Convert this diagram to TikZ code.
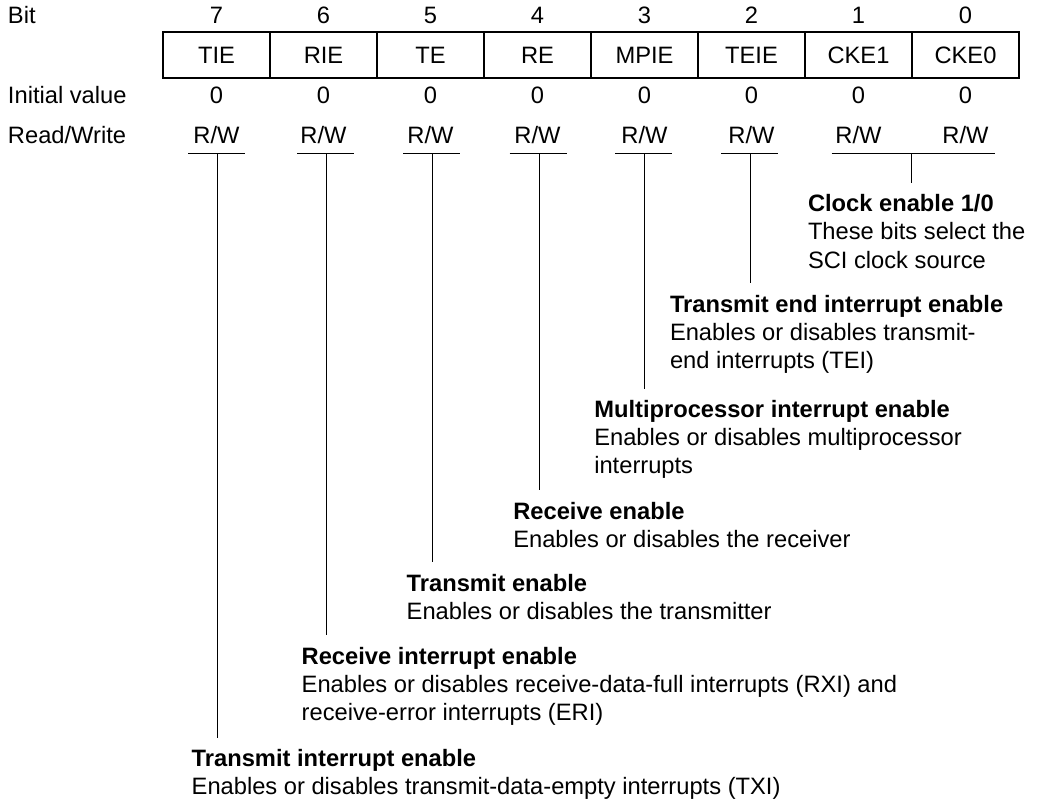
\documentclass[tikz,border=0pt]{standalone}
\usepackage{fontspec}
\setmainfont{Liberation Sans}
\newcommand\blocktext[2]{\begin{tabular}[t]{@{}l@{}}\textbf{#1}\\#2\end{tabular}}
\begin{document}
\begin{tikzpicture}[x=1pt,y=-1pt,
  every node/.style={inner sep=0pt, outer sep=0pt},
  txt/.style={font=\fontsize{23.7}{28}\selectfont},
  lbl/.style={txt, anchor=base},
  lft/.style={txt, anchor=base west},
  cell/.style={draw, line width=1.2pt, minimum width=107pt, minimum height=46pt, txt, anchor=north west},
  rule/.style={line width=1pt},
  stem/.style={line width=1pt, shorten >=9pt},
  blk/.style={txt, anchor=base west}]
\useasboundingbox (0,0) rectangle (1040,802);

% row labels
\node[lft] (lbit) at (8,23.3) {Bit};
\node[lft] (linit) at (8,104) {Initial value};
\node[lft] (lrw) at (8,143.3) {Read/Write};

% register
\foreach \n/\name [count=\i from 0] in {7/TIE,6/RIE,5/TE,4/RE,3/MPIE,2/TEIE,1/CKE1,0/CKE0}{
  \pgfmathsetmacro\cx{216.5+107*\i}
  \node[lbl] (bit\n) at (\cx,23.3) {\n};
  \node[cell] (cell\n) at (163+107*\i,32) {\name};
  \node[lbl] (init\n) at (\cx,104) {0};
  \node[lbl] (rw\n) at (\cx,143.3) {R/W};
}

% description blocks
\node[blk] (cke) at (808,212) {\blocktext{Clock enable 1/0}{These bits select the\\SCI clock source}};
\node[blk] (teie) at (670,312) {\blocktext{Transmit end interrupt enable}{Enables or disables transmit-\\end interrupts (TEI)}};
\node[blk] (mpie) at (594.3,417.3) {\blocktext{Multiprocessor interrupt enable}{Enables or disables multiprocessor\\interrupts}};
\node[blk] (re) at (513.3,519) {\blocktext{Receive enable}{Enables or disables the receiver}};
\node[blk] (te) at (406.7,591) {\blocktext{Transmit enable}{Enables or disables the transmitter}};
\node[blk] (rie) at (301.7,664) {\blocktext{Receive interrupt enable}{Enables or disables receive-data-full interrupts (RXI) and\\receive-error interrupts (ERI)}};
\node[blk] (tie) at (191.7,766.5) {\blocktext{Transmit interrupt enable}{Enables or disables transmit-data-empty interrupts (TXI)}};

% underlines and stems
\foreach \c/\x/\t in {7/217.5/tie,6/326.5/rie,5/432.5/te,4/539/re,3/644.5/mpie,2/750.5/teie}{
  \coordinate (u\c) at (\x,154);
  \draw[rule] ([xshift=-29.5pt]u\c) -- ([xshift=27.5pt]u\c);
  \draw[stem] (u\c) -- (u\c |- \t.north);
}
\coordinate (uck) at (911.7,154);
\draw[rule] (831.7,154) -- (995,154);
\draw[stem] (uck) -- (uck |- cke.north);
\end{tikzpicture}
\end{document}
